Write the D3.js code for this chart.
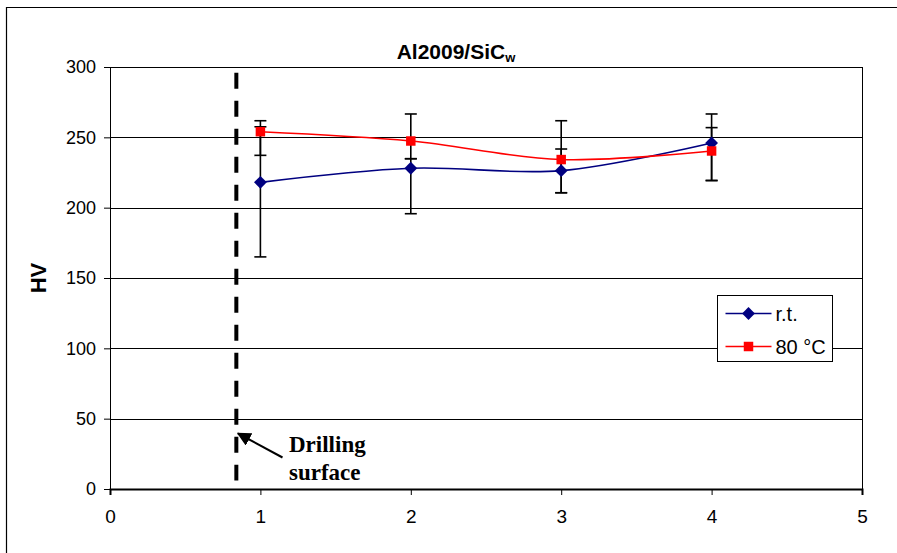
<!DOCTYPE html>
<html>
<head>
<meta charset="utf-8">
<script src="https://cdn.jsdelivr.net/npm/d3@7"></script>
<style>
  body { margin: 0; background: #fff; }
  svg { display: block; }
</style>
</head>
<body>
<div id="chart"></div>
<script>
// measurement positions and hardness values
const positions = [1, 2, 3, 4];
const rtValues = [218, 228, 226.3, 246];
const rtLow = [165, 195.7, 210.6, 219.3];
const rtHigh = [257.5, 234.8, 241.7, 266.6];
const hotValues = [254, 247.4, 234.2, 240.3];
const hotLow = [237.2, 234.8, 210.6, 219.3];
const hotHigh = [261.8, 266.6, 261.8, 256.9];

const xTicks = [0, 1, 2, 3, 4, 5];
const yTicks = [0, 50, 100, 150, 200, 250, 300];
const seriesNames = ['r.t.', '80 °C'];

// drilling surface marker
const drillX = 0.84;
const drillRange = [6, 296];

const width = 897, height = 553;
const margin = { top: 67, right: 35, bottom: 64, left: 110 };

const svg = d3.select('#chart')
    .append('svg')
    .attr('width', width)
    .attr('height', height);

// outer chart frame (runs off the right and bottom edge)
svg.append('path')
    .attr('d', `M6.5,${height + 5}V7.5H${width + 5}`)
    .attr('fill', 'none')
    .attr('stroke', '#000')
    .attr('stroke-width', 1.2);

const x = d3.scaleLinear()
    .domain([0, 5])
    .range([margin.left, width - margin.right]);

const y = d3.scaleLinear()
    .domain([0, 300])
    .range([height - margin.bottom, margin.top]);

// grid lines
svg.append('g')
    .selectAll('line')
    .data(yTicks.filter(d => d > 0))
    .join('line')
    .attr('x1', x(0))
    .attr('x2', x(5))
    .attr('y1', d => Math.round(y(d)) + 0.5)
    .attr('y2', d => Math.round(y(d)) + 0.5)
    .attr('stroke', '#000')
    .attr('stroke-width', 1);

// right border of plot area
svg.append('line')
    .attr('x1', Math.round(x(5)) + 0.5)
    .attr('x2', Math.round(x(5)) + 0.5)
    .attr('y1', y(300))
    .attr('y2', y(0))
    .attr('stroke', '#000');

// axes
const yAxis = svg.append('g')
    .attr('transform', `translate(${x(0)},0)`)
    .call(d3.axisLeft(y).tickValues(yTicks).tickFormat(d3.format('d')).tickSize(6).tickPadding(8));
yAxis.selectAll('text')
    .attr('font-family', 'Liberation Sans, Arial, sans-serif')
    .attr('font-size', 18)
    .attr('fill', '#000');

const xAxis = svg.append('g')
    .attr('transform', `translate(0,${y(0)})`)
    .call(d3.axisBottom(x).tickValues(xTicks).tickFormat(d3.format('d')).tickSize(6).tickPadding(15));
xAxis.selectAll('text')
    .attr('font-family', 'Liberation Sans, Arial, sans-serif')
    .attr('font-size', 19)
    .attr('fill', '#000');
xAxis.select('.domain').attr('stroke-width', 2);
svg.selectAll('.domain').attr('stroke', '#000');
svg.selectAll('.tick line').attr('stroke', '#000');

// dashed drilling surface line
svg.append('line')
    .attr('x1', x(drillX))
    .attr('x2', x(drillX))
    .attr('y1', y(drillRange[1]))
    .attr('y2', y(drillRange[0]))
    .attr('stroke', '#000')
    .attr('stroke-width', 4)
    .attr('stroke-dasharray', '16 12');

// error bars
const errorSets = [
    { low: rtLow, high: rtHigh },
    { low: hotLow, high: hotHigh }
];
errorSets.forEach(s => {
    const g = svg.append('g').attr('stroke', '#000').attr('stroke-width', 1.6);
    positions.forEach((p, i) => {
        const cx = x(p);
        g.append('line')
            .attr('x1', cx).attr('x2', cx)
            .attr('y1', y(s.low[i])).attr('y2', y(s.high[i]));
        [s.low[i], s.high[i]].forEach(v => {
            g.append('line')
                .attr('x1', cx - 6).attr('x2', cx + 6)
                .attr('y1', y(v)).attr('y2', y(v));
        });
    });
});

// series lines (smoothed like the original)
const line = d3.line()
    .x(d => x(d[0]))
    .y(d => y(d[1]))
    .curve(d3.curveCatmullRom.alpha(0));

const series = [
    { name: seriesNames[0], values: rtValues, color: '#000080', symbol: d3.symbolDiamond2, size: 105 },
    { name: seriesNames[1], values: hotValues, color: '#ff0000', symbol: d3.symbolSquare, size: 90 }
];

series.forEach(s => {
    const pts = positions.map((p, i) => [p, s.values[i]]);
    svg.append('path')
        .datum(pts)
        .attr('fill', 'none')
        .attr('stroke', s.color)
        .attr('stroke-width', 1.6)
        .attr('d', line);
    svg.append('g')
        .selectAll('path')
        .data(pts)
        .join('path')
        .attr('transform', d => `translate(${x(d[0])},${y(d[1])})`)
        .attr('d', d3.symbol().type(s.symbol).size(s.size))
        .attr('fill', s.color);
});

// title
const title = svg.append('text')
    .attr('x', 456)
    .attr('y', 59)
    .attr('text-anchor', 'middle')
    .attr('font-family', 'Liberation Sans, Arial, sans-serif')
    .attr('font-weight', 'bold')
    .attr('font-size', 21);
title.append('tspan').text('Al2009/SiC');
title.append('tspan').attr('font-size', 13).attr('dy', 3).text('w');

// y axis label
svg.append('text')
    .attr('transform', `translate(46,${(y(0) + y(300)) / 2}) rotate(-90)`)
    .attr('text-anchor', 'middle')
    .attr('font-family', 'Liberation Sans, Arial, sans-serif')
    .attr('font-weight', 'bold')
    .attr('font-size', 22)
    .text('HV');

// legend
const legend = svg.append('g').attr('transform', 'translate(717.5,295.5)');
legend.append('rect')
    .attr('width', 115)
    .attr('height', 66)
    .attr('fill', '#fff')
    .attr('stroke', '#000');
series.forEach((s, i) => {
    const ly = 18 + i * 33;
    legend.append('line')
        .attr('x1', 8).attr('x2', 54)
        .attr('y1', ly).attr('y2', ly)
        .attr('stroke', s.color)
        .attr('stroke-width', 1.6);
    legend.append('path')
        .attr('transform', `translate(31,${ly})`)
        .attr('d', d3.symbol().type(s.symbol).size(s.size))
        .attr('fill', s.color);
    legend.append('text')
        .attr('x', 58)
        .attr('y', ly + 7)
        .attr('font-family', 'Liberation Sans, Arial, sans-serif')
        .attr('font-size', 20)
        .text(s.name);
});

// annotation
svg.append('defs').append('marker')
    .attr('id', 'arrow')
    .attr('viewBox', '0 0 10 10')
    .attr('refX', 9)
    .attr('refY', 5)
    .attr('markerWidth', 7)
    .attr('markerHeight', 7)
    .attr('markerUnits', 'strokeWidth')
    .attr('orient', 'auto')
    .append('path')
    .attr('d', 'M0,0L10,5L0,10Z')
    .attr('fill', '#000');

svg.append('line')
    .attr('x1', 282.5).attr('y1', 457.5)
    .attr('x2', 238).attr('y2', 433.5)
    .attr('stroke', '#000')
    .attr('stroke-width', 2)
    .attr('marker-end', 'url(#arrow)');

const note = svg.append('text')
    .attr('font-family', 'Liberation Serif, Times New Roman, serif')
    .attr('font-weight', 'bold')
    .attr('font-size', 23);
note.append('tspan').attr('x', 289).attr('y', 452).text('Drilling');
note.append('tspan').attr('x', 289).attr('y', 480).text('surface');
</script>
</body>
</html>
